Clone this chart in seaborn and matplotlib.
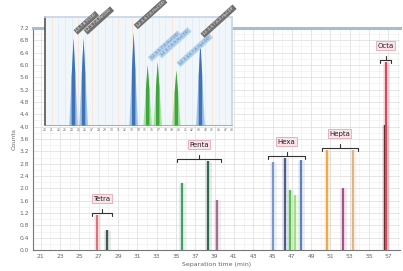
import numpy as np
import pandas as pd
import matplotlib
matplotlib.use("Agg")
import matplotlib.pyplot as plt
from matplotlib.ticker import MultipleLocator
import seaborn as sns

# ---------------- data ----------------
groups = ["Tetra", "Penta", "Hexa", "Hepta", "Octa"]
tetra_times = [26.85, 27.85]
tetra_counts = [1.14, 0.65]
penta_times = [35.6, 38.3, 39.2]
penta_counts = [2.18, 2.89, 1.62]
hexa_times = [45.0, 46.3, 46.8, 47.35, 47.9]
hexa_counts = [2.86, 2.99, 1.95, 1.79, 2.92]
hepta_times = [50.6, 52.3, 53.3]
hepta_counts = [3.25, 2.0, 3.25]
octa_times = [56.6, 56.8]
octa_counts = [4.06, 6.1]

tetra_colors = ["#e0707a", "#3d5a4c"]
penta_colors = ["#3fa06a", "#2f6a50", "#a0708e"]
hexa_colors = ["#7a98c8", "#4c5c8c", "#55c255", "#a2e07e", "#6080b8"]
hepta_colors = ["#f2a848", "#a45288", "#dcb68a"]
octa_colors = ["#5a2c2c", "#e04656"]

x_ticks = list(range(21, 58, 2))
y_ticks = [round(0.4 * i, 1) for i in range(19)]

inset_pos = [4.2, 5.7, 13.2, 15.3, 16.8, 19.6, 23.2]
inset_height = [0.81, 0.81, 0.86, 0.56, 0.59, 0.51, 0.78]
inset_kind = ["blue", "blue", "blue", "green", "green", "green", "blue"]
inset_names = ["2,3,7,8-TCDD", "1,2,3,7,8-PeCDD", "1,2,3,4,7,8-HxCDD",
               "1,2,3,6,7,8-HxCDD", "1,2,3,7,8,9-HxCDD",
               "1,2,3,4,6,7,8-HpCDD", "1,2,3,4,7,8,9-HpCDF"]

# ---------------- figure ----------------
sns.set_theme(style="white")
plt.rcParams["font.family"] = ["DejaVu Sans"]

fig = plt.figure(figsize=(4.03, 2.71), dpi=100)
ax = fig.add_axes([33 / 403, 1 - 250 / 271, 367 / 403, 222 / 271])

ax.set_xlim(20.2, 58.2)
ax.set_ylim(0, 7.2)
ax.set_xticks(x_ticks)
ax.set_yticks(y_ticks)
ax.set_yticklabels([f"{v:.1f}" for v in y_ticks])
ax.xaxis.set_minor_locator(MultipleLocator(1))
ax.yaxis.set_minor_locator(MultipleLocator(0.2))
ax.grid(True, which="major", color="#dcdcdc", lw=0.5)
ax.grid(True, which="minor", color="#ececec", lw=0.4)
ax.tick_params(axis="both", labelsize=4.3, colors="#666666", length=1.5, pad=1.5)
ax.set_xlabel("Separation time (min)", fontsize=4.5, color="#666666", labelpad=1.5)
ax.set_ylabel("Counts", fontsize=4.5, color="#666666", labelpad=2)
for side in ["left", "bottom"]:
    ax.spines[side].set_color("#777777")
    ax.spines[side].set_linewidth(0.8)
ax.spines["right"].set_visible(False)
ax.spines["top"].set_color("#a9bccd")
ax.spines["top"].set_linewidth(2.2)

all_sets = [
    (tetra_times, tetra_counts, tetra_colors),
    (penta_times, penta_counts, penta_colors),
    (hexa_times, hexa_counts, hexa_colors),
    (hepta_times, hepta_counts, hepta_colors),
    (octa_times, octa_counts, octa_colors),
]

for name, (ts, cs, cols) in zip(groups, all_sets):
    for t, c, col in zip(ts, cs, cols):
        ax.vlines(t, 0, c, color=col, lw=5, alpha=0.12, zorder=2)
        ax.vlines(t, 0, c, color=col, lw=1.6, zorder=3)
    x0, x1 = min(ts) - 0.5, max(ts) + 0.5
    yb = max(cs) + 0.07
    d = 0.12
    xm = (x0 + x1) / 2
    ax.plot([x0, x0, x1, x1], [yb - d, yb, yb, yb - d], color="#333333", lw=0.8, zorder=4)
    ax.plot([xm, xm], [yb, yb + d], color="#333333", lw=0.8, zorder=4)
    ax.text(xm, yb + 0.45, name, ha="center", va="center", fontsize=5, color="#222222",
            zorder=5,
            bbox=dict(boxstyle="square,pad=0.2", fc="#fbe4ea", ec="#dd9aa8", lw=0.5))

# ---------------- inset ----------------
ins = fig.add_axes([45 / 403, 1 - 125 / 271, 187 / 403, 108 / 271])
ins.set_facecolor("#f1f6fb")
ins.set_xlim(0, 28)
ins.set_ylim(0, 1.0)
for xv in range(1, 28):
    ins.axvline(xv, color="#fbe3d6" if xv % 2 else "#e4ecf6", lw=0.6, zorder=0)
ins.set_xticks(range(0, 29))
ins.set_xticklabels([str(v) for v in range(20, 49)], fontsize=2.2, color="#777777")
ins.set_yticks([0.2, 0.4, 0.6, 0.8])
ins.set_yticklabels([])
ins.tick_params(axis="both", length=1.2, pad=0.8, colors="#666666")
ins.spines["left"].set_color("#555555")
ins.spines["left"].set_linewidth(1.2)
ins.spines["bottom"].set_color("#8aa0b8")
ins.spines["bottom"].set_linewidth(0.6)
ins.spines["top"].set_color("#c8d6e4")
ins.spines["right"].set_color("#c8d6e4")

half_w = 0.65
for p, h, k, nm in zip(inset_pos, inset_height, inset_kind, inset_names):
    dark = "#3f73b5" if k == "blue" else "#3fa53f"
    light = "#9fc4ea" if k == "blue" else "#a8e2a0"
    xs = np.linspace(p - half_w, p + half_w, 41)
    ys = h * (1 - np.abs(xs - p) / half_w)
    ins.fill_between(xs, 0, ys, color=light, lw=0, zorder=2)
    ins.fill_between(xs, 0, ys * 0.999, where=np.abs(xs - p) < half_w * 0.45,
                     color=dark, lw=0, zorder=3)
    box_fc = "#6f6f6f" if k == "blue" else "#b5d3ee"
    txt_c = "#f2f2f2" if k == "blue" else "#5a7fa8"
    ins.text(p + 0.3, h + 0.04, nm, rotation=42, ha="left", va="bottom",
             fontsize=3.0, color=txt_c, zorder=6, clip_on=False,
             bbox=dict(boxstyle="square,pad=0.25", fc=box_fc, ec="none"))

fig.savefig("out.png", dpi=100)
